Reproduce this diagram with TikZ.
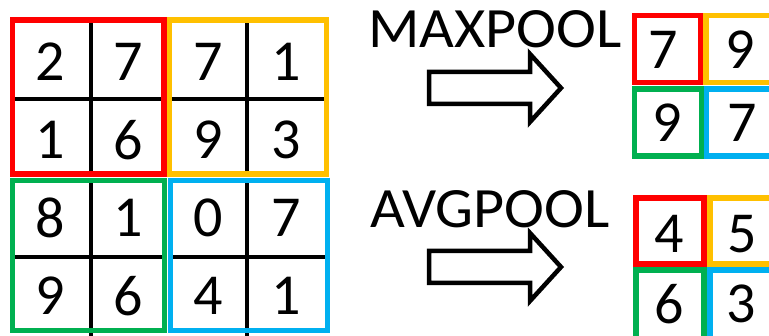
\documentclass[tikz,border=0pt]{standalone}
\usepackage{fontspec}
\setmainfont{Carlito}
\newfontfamily\poolfont[FakeStretch=1.055]{Carlito}
\definecolor{poolred}{HTML}{FF0000}
\definecolor{poolorange}{HTML}{FFC000}
\definecolor{poolgreen}{HTML}{00B050}
\definecolor{poolblue}{HTML}{00B0F0}
\tikzset{
  digit/.style={inner sep=0pt, font=\fontsize{58}{58}\selectfont},
  title/.style={inner sep=0pt, anchor=base west, font=\poolfont\fontsize{57}{57}\selectfont},
  gridline/.style={line width=4pt, black},
  window/.style={line width=5.3pt},
  blockarrow/.style={line width=4.5pt, line join=miter, black, fill=white},
}
\begin{document}
\begin{tikzpicture}[x=1pt,y=-1pt]
\useasboundingbox (0,0) rectangle (769,336);
\clip (0,0) rectangle (769,336);
\fill[white] (0,0) rectangle (769,336);

% input 4x4 feature map: inner cell lines
\draw[gridline] (90.7,20) -- (90.7,174);
\draw[gridline] (247.3,20) -- (247.3,174);
\draw[gridline] (90.7,180) -- (90.7,336);
\draw[gridline] (247.3,180) -- (247.3,336);
\draw[gridline] (13,99) -- (164,99);
\draw[gridline] (170,99) -- (327,99);
\draw[gridline] (13,256.7) -- (164,256.7);
\draw[gridline] (170,256.7) -- (327,256.7);

% 2x2 pooling windows
\draw[window, poolred]    (12.7,20) rectangle (164,174);
\draw[window, poolorange] (169.3,20) rectangle (326.7,174);
\draw[window, poolgreen]  (12.7,180.3) rectangle (164.5,330.3);
\draw[window, poolblue]   (170.7,180.3) rectangle (327.3,330.3);

% input values
\node[digit] (a11) at (50,62)  {2};
\node[digit] (a12) at (128,62) {7};
\node[digit] (a13) at (208,62) {7};
\node[digit] (a14) at (286,62) {1};
\node[digit] (a21) at (50,140)  {1};
\node[digit] (a22) at (128,140) {6};
\node[digit] (a23) at (208,140) {9};
\node[digit] (a24) at (286,140) {3};
\node[digit] (a31) at (50,218)  {8};
\node[digit] (a32) at (128,218) {1};
\node[digit] (a33) at (208,218) {0};
\node[digit] (a34) at (286,218) {7};
\node[digit] (a41) at (50,296)  {9};
\node[digit] (a42) at (128,296) {6};
\node[digit] (a43) at (208,296) {4};
\node[digit] (a44) at (286,296) {1};

% operation labels
\node[title] (maxlabel) at (368,48)  {MAXPOOL};
\node[title] (avglabel) at (370,228) {AVGPOOL};

% block arrows
\draw[blockarrow] (429,72) -- (530,72) -- (530,54) -- (561,88) -- (530,122)
  -- (530,104) -- (429,104) -- cycle;
\draw[blockarrow] (429,251) -- (530,251) -- (530,233) -- (561,267) -- (530,301)
  -- (530,283) -- (429,283) -- cycle;

% max-pooling result
\draw[window, poolred]    (634.5,15.5) rectangle (700.5,82.5);
\draw[window, poolorange] (706,15.5) rectangle (800,82.5);
\draw[window, poolgreen]  (634.5,89) rectangle (701.5,156);
\draw[window, poolblue]   (706.5,89) rectangle (800,156);
\node[digit] (m11) at (663,50)  {7};
\node[digit] (m12) at (740,50)  {9};
\node[digit] (m21) at (667,123) {9};
\node[digit] (m22) at (742,123) {7};

% average-pooling result
\draw[window, line width=6pt, poolred]    (636,198) rectangle (704,264);
\draw[window, line width=6pt, poolorange] (710,198) rectangle (800,264);
\draw[window, line width=6pt, poolgreen]  (636,270) rectangle (704,360);
\draw[window, line width=6pt, poolblue]   (710,270) rectangle (800,360);
\node[digit] (v11) at (669,234) {4};
\node[digit] (v12) at (742,234) {5};
\node[digit] (v21) at (669,304) {6};
\node[digit] (v22) at (741,304) {3};
\end{tikzpicture}
\end{document}
